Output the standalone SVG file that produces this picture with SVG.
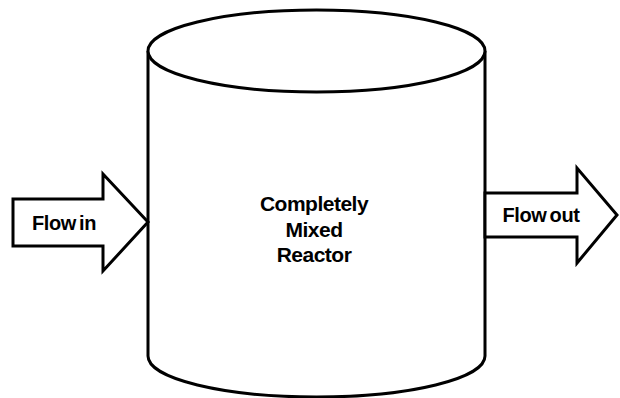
<svg xmlns="http://www.w3.org/2000/svg" width="620" height="398" viewBox="0 0 620 398">
<style>
.s{fill:#fff;stroke:#000;stroke-width:3;stroke-linejoin:miter}
.t{font-family:"Liberation Sans",Arial,sans-serif;font-weight:bold;fill:#000}
</style>
<rect width="620" height="398" fill="#fff"/>
<g id="reactor">
<path class="s" d="M148,51 L148,356 A168.5,41 0 0 0 485,356 L485,51"/>
<ellipse class="s" cx="316.5" cy="51" rx="168.5" ry="41"/>
<text class="t" font-size="21" letter-spacing="-0.5" text-anchor="middle"><tspan x="314" y="211">Completely</tspan><tspan x="314" y="237">Mixed</tspan><tspan x="314" y="262">Reactor</tspan></text>
</g>
<g id="connectors">
<g id="flow-in">
<path class="s" d="M13,199 L103,199 L103,174 L148,222 L103,271 L103,246 L13,246 Z"/>
<text class="t" font-size="20" letter-spacing="-0.4" word-spacing="-2" x="64" y="230" text-anchor="middle">Flow in</text>
</g>
<g id="flow-out">
<path class="s" d="M485,193 L577,193 L577,168 L617,215 L577,263 L577,237 L485,237 Z"/>
<text class="t" font-size="20" letter-spacing="-0.4" word-spacing="-2" x="541" y="222" text-anchor="middle">Flow out</text>
</g>
</g>
</svg>
